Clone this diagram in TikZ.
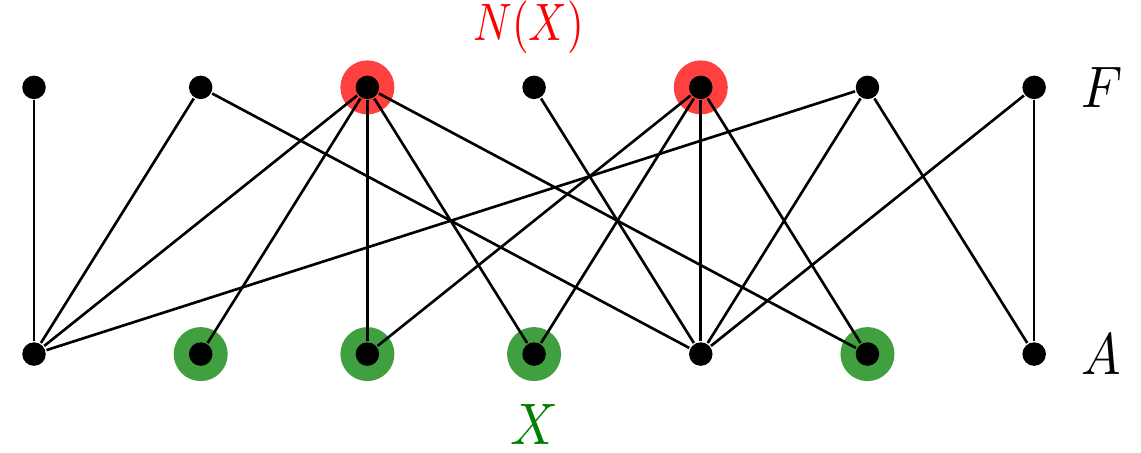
\documentclass[tikz,border=0pt]{standalone}
\usetikzlibrary{positioning}
\definecolor{halored}{RGB}{255,64,64}
\definecolor{halogreen}{RGB}{64,160,64}
\definecolor{darkgreen}{RGB}{0,128,0}

\begin{document}
\begin{tikzpicture}[line width=0.45pt,
	dot/.style={circle, fill=black, inner sep=0pt, minimum size=0.141cm},
	halo/.style={circle, inner sep=0pt, minimum size=0.324cm},
	lbl/.style={transform shape, xscale=0.9}]
	\useasboundingbox (-0.204, -0.588) rectangle (6.641, 2.124);

	% N(X) and X
	\node[halo, fill=halored] (h3) at (2, 1.6) {};
	\node[halo, fill=halored] (h5) at (4, 1.6) {};
	\node[halo, fill=halogreen] (g2) at (1, 0) {};
	\node[halo, fill=halogreen] (g3) at (2, 0) {};
	\node[halo, fill=halogreen] (g4) at (3, 0) {};
	\node[halo, fill=halogreen] (g6) at (5, 0) {};

	\node[dot] (f1) at (0, 1.6) {};
	\node[dot] (f2) at (1, 1.6) {};
	\node[dot] (f3) at (2, 1.6) {};
	\node[dot] (f4) at (3, 1.6) {};
	\node[dot] (f5) at (4, 1.6) {};
	\node[dot] (f6) at (5, 1.6) {};
	\node[dot] (f7) at (6, 1.6) {};

	\node[dot] (a1) at (0, 0) {};
	\node[dot] (a2) at (1, 0) {};
	\node[dot] (a3) at (2, 0) {};
	\node[dot] (a4) at (3, 0) {};
	\node[dot] (a5) at (4, 0) {};
	\node[dot] (a6) at (5, 0) {};
	\node[dot] (a7) at (6, 0) {};

	\node[lbl, right=0.09cm of f7] (lF) {$F$};
	\node[lbl, right=0.09cm of a7] (lA) {$A$};
	\node[lbl, red, font=\small, xscale=0.88, xshift=-0.04cm, above=0cm of f4] (lN) {$N(X)$};
	\node[lbl, darkgreen, below=0.1cm of a4] (lX) {$X$};

	\draw (f1) -- (a1);
	\draw (f2) -- (a1);
	\draw (f2) -- (a5);
	\draw (f3) -- (a1);
	\draw (f3) -- (a2);
	\draw (f3) -- (a3);
	\draw (f3) -- (a4);
	\draw (f3) -- (a6);
	\draw (f4) -- (a5);
	\draw (f5) -- (a3);
	\draw (f5) -- (a4);
	\draw (f5) -- (a5);
	\draw (f5) -- (a6);
	\draw (f6) -- (a1);
	\draw (f6) -- (a5);
	\draw (f6) -- (a7);
	\draw (f7) -- (a5);
	\draw (f7) -- (a7);

\end{tikzpicture}
\end{document}
